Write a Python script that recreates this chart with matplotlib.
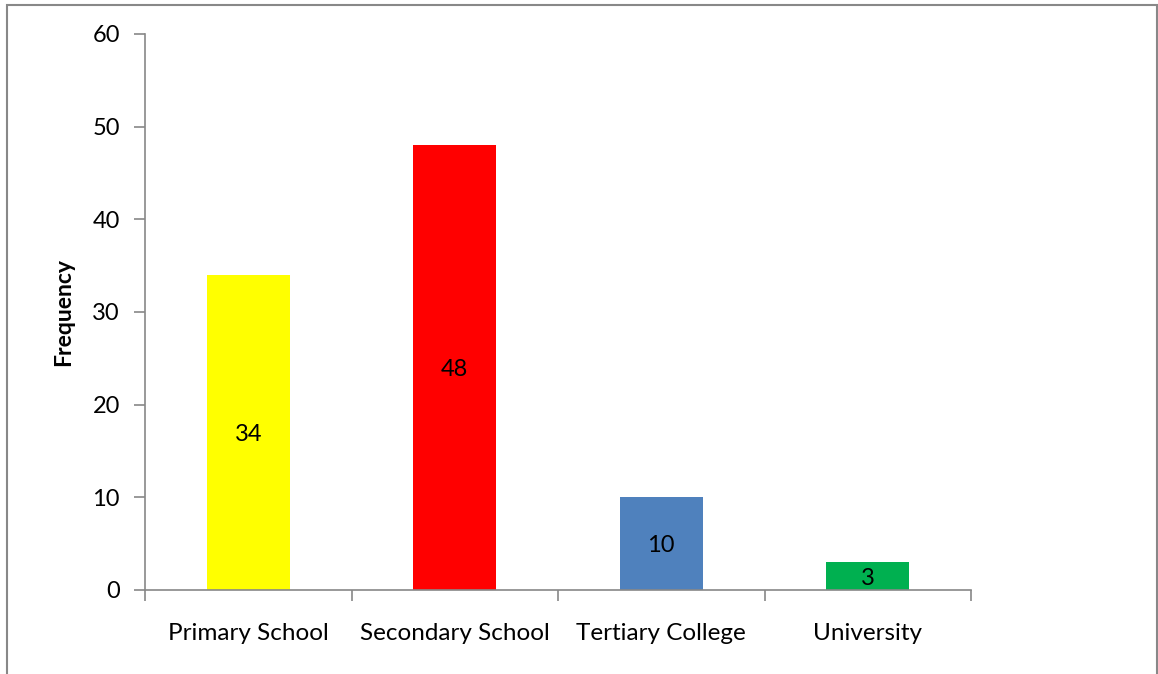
import matplotlib.pyplot as plt
from matplotlib.patches import Rectangle

categories = ["Primary School", "Secondary School", "Tertiary College", "University"]
frequency = [34, 48, 10, 3]
bar_colors = ["#FFFF00", "#FF0000", "#4F81BD", "#00B050"]
y_ticks = [0, 10, 20, 30, 40, 50, 60]

plt.rcParams['font.family'] = ['Lato', 'DejaVu Sans']

fig = plt.figure(figsize=(11.58, 6.74), dpi=100)
ax = fig.add_axes([145 / 1158, 1 - 590 / 674, 826 / 1158, 556 / 674])

x = range(len(categories))
bars = ax.bar(x, frequency, width=0.4, color=bar_colors)
for b, v in zip(bars, frequency):
    ax.text(b.get_x() + b.get_width() / 2, v / 2, str(v),
            ha='center', va='center_baseline', fontsize=17)

ax.set_xlim(-0.5, len(categories) - 0.5)
ax.set_ylim(0, 60)
ax.set_yticks(y_ticks)
ax.set_yticklabels([str(t) for t in y_ticks], fontsize=17)

# category labels between boundary ticks
ax.set_xticks([i + 0.5 for i in range(-1, len(categories))])
ax.set_xticklabels([])
ax.set_xticks(list(x), minor=True)
ax.set_xticklabels(categories, minor=True, fontsize=17.5)
ax.tick_params(axis='x', which='minor', length=0, pad=24)
ax.tick_params(axis='x', which='major', length=8, color='#888888', width=1.2)
ax.tick_params(axis='y', length=8, color='#888888', width=1.2, pad=10)

for s in ['top', 'right']:
    ax.spines[s].set_visible(False)
for s in ['left', 'bottom']:
    ax.spines[s].set_color('#888888')
    ax.spines[s].set_linewidth(1.2)

ax.set_ylabel("Frequency", fontsize=16.5, fontweight='bold', labelpad=13)

# outer chart border
fig.patches.append(Rectangle((7 / 1158, -0.01), 1150 / 1158, 1 - 5 / 674 + 0.01,
                             transform=fig.transFigure, fill=False,
                             edgecolor='#888888', linewidth=1.5))

fig.savefig("out.png", dpi=100)
